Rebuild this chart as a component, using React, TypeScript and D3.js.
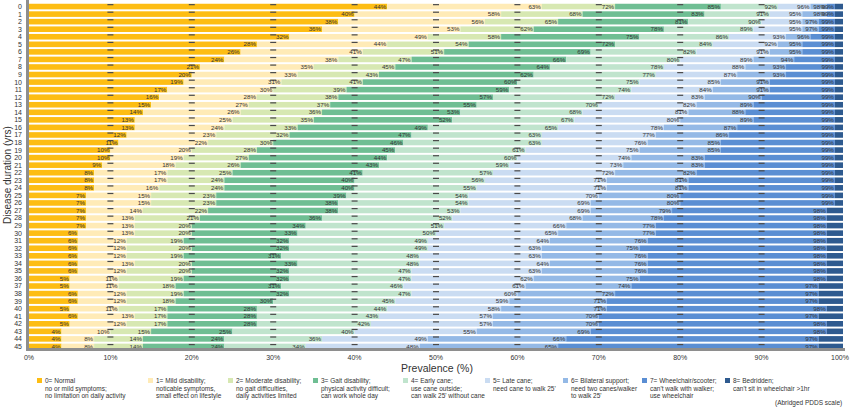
import React from "react";
import * as d3 from "d3";

const years: string[] = Array.from({ length: 46 }, (_, i) => String(i));

// Cumulative prevalence (%) up to and including each PDDS level, per disease-duration year 0..45
const upTo0 = [44,40,38,36,32,28,26,24,21,20,19,17,16,15,14,13,13,12,11,10,10,9,8,8,8,7,7,7,7,7,6,6,6,6,6,6,5,5,6,6,5,6,5,4,4,4];
const upTo1 = [63,58,56,53,49,44,41,38,35,33,31,30,28,27,26,25,24,23,22,20,19,18,17,17,16,15,15,14,13,13,13,12,12,12,13,12,11,11,12,12,11,13,12,10,8,8];
const upTo2 = [72,68,65,62,58,54,51,47,45,43,41,39,38,37,36,35,33,32,30,28,27,26,25,24,24,23,23,22,21,20,20,19,20,19,20,20,19,18,19,18,17,17,17,15,14,14];
const upTo3 = [85,83,81,78,75,72,69,66,64,62,60,59,57,55,53,52,49,47,46,45,44,43,41,40,40,39,38,38,36,34,33,32,32,31,33,32,32,31,32,30,28,28,28,25,24,24];
const upTo4 = [92,91,90,89,86,84,82,80,78,77,75,74,72,70,68,67,65,63,63,61,60,59,57,56,55,54,54,53,52,51,50,49,49,48,48,47,47,46,47,45,44,43,42,40,36,34];
const upTo5 = [96,95,95,95,93,92,91,89,88,87,85,84,83,82,81,80,78,77,76,75,74,73,72,71,71,70,69,69,68,66,65,64,63,63,64,63,62,61,60,59,58,57,57,55,49,48];
const upTo6 = [98,98,97,97,96,95,95,94,93,93,91,91,90,89,88,89,87,86,85,85,83,83,82,81,81,80,80,79,78,77,77,76,75,76,76,76,75,74,72,71,71,70,70,69,66,65];
const upTo7 = [99,99,99,99,99,99,99,99,99,99,99,99,99,99,99,99,99,99,99,99,99,99,99,99,99,99,99,98,98,98,98,98,98,98,98,98,98,97,97,97,98,97,98,98,97,97];
const cumulativeSeries = [upTo0, upTo1, upTo2, upTo3, upTo4, upTo5, upTo6, upTo7];

const xTicks = [0, 10, 20, 30, 40, 50, 60, 70, 80, 90, 100];

const categoryColors = ["#FDBD13", "#FFEBB7", "#D7E8B2", "#6FBE93", "#C0E4CD", "#CADCF2", "#94B9E6", "#5A8ED3", "#2E5A8F"];

const legendItems: string[][] = [
  ["0= Normal", "no or mild symptoms;", "no limitation on daily activity"],
  ["1= Mild disability;", "noticable symptoms,", "small effect on lifestyle"],
  ["2= Moderate disability;", "no gait difficulties,", "daily activities limited"],
  ["3= Gait disability;", "physical activity difficult;", "can work whole day"],
  ["4= Early cane;", "use cane outside;", "can walk 25' without cane"],
  ["5= Late cane;", "need cane to walk 25'"],
  ["6= Bilateral support;", "need two canes/walker", "to walk 25'"],
  ["7= Wheelchair/scooter;", "can't walk with walker;", "use wheelchair"],
  ["8= Bedridden;", "can't sit in wheelchair >1hr"],
];
const legendX = [37, 148, 228, 313, 403, 485, 563, 642, 725];

const FONT = "'Liberation Sans', Arial, sans-serif";

export default function App() {
  const W = 850, H = 411;
  const x = d3.scaleLinear().domain([0, 100]).range([29, 843]);
  const y = d3.scaleBand<string>().domain(years).range([3, 350]).paddingInner(0.26).paddingOuter(0.1);
  const bw = y.bandwidth();

  const bars: React.ReactNode[] = [];
  const labels: React.ReactNode[] = [];
  years.forEach((yr, i) => {
    const bounds = [0, ...cumulativeSeries.map((s) => s[i]), 100];
    for (let k = 0; k < 9; k++) {
      const a = bounds[k], b = bounds[k + 1];
      bars.push(
        <rect key={`b${i}-${k}`} x={x(a)} y={y(yr)!} width={Math.max(0, x(b) - x(a))} height={bw} fill={categoryColors[k]} />
      );
      if (k < 8) {
        labels.push(
          <text key={`l${i}-${k}`} x={x(b) - 1} y={y(yr)! + bw / 2} dy="0.35em" textAnchor="end" fontSize={6.2} fill="#333" fontFamily={FONT}>
            {`${b}%`}
          </text>
        );
      }
    }
  });

  const dashes: React.ReactNode[] = [];
  years.forEach((yr, i) => {
    xTicks.slice(1, 10).forEach((t) => {
      dashes.push(
        <rect key={`d${i}-${t}`} x={x(t) - 3} y={y(yr)! + 0.3} width={6} height={1.2} fill="#4a4a4a" />
      );
    });
  });

  return (
    <svg width={W} height={H} style={{ position: "absolute", left: 0, top: 0, background: "#fff" }}>
      <g>{bars}</g>
      <g>{dashes}</g>
      <g>{labels}</g>
      {/* axes */}
      <rect x={26} y={0} width={3} height={351} fill="#8e8e8e" />
      <rect x={26} y={348} width={819} height={3} fill="#8e8e8e" />
      {years.map((yr) => (
        <text key={`y${yr}`} x={22} y={y(yr)! + bw / 2} dy="0.35em" textAnchor="end" fontSize={7} fill="#333" fontFamily={FONT}>
          {yr}
        </text>
      ))}
      {xTicks.map((t) => (
        <text key={`x${t}`} x={Math.min(x(t), 840)} y={360} textAnchor="middle" fontSize={7} fill="#333" fontFamily={FONT}>
          {`${t}%`}
        </text>
      ))}
      <text x={437} y={372} textAnchor="middle" fontSize={10.5} fill="#333" fontFamily={FONT}>
        Prevalence (%)
      </text>
      <text transform="translate(11,175) rotate(-90)" textAnchor="middle" fontSize={10} fill="#333" fontFamily={FONT}>
        Disease duration (yrs)
      </text>
      {/* legend */}
      {legendItems.map((lines, k) => (
        <g key={`lg${k}`}>
          <rect x={legendX[k]} y={378} width={5} height={5} fill={categoryColors[k]} />
          {lines.map((ln, j) => (
            <text key={j} x={legendX[k] + 8} y={383 + j * 7.6} fontSize={6.5} fill="#333" fontFamily={FONT}>
              {ln}
            </text>
          ))}
        </g>
      ))}
      <text x={775} y={405} fontSize={6.5} fill="#333" fontFamily={FONT}>
        (Abridged PDDS scale)
      </text>
    </svg>
  );
}
